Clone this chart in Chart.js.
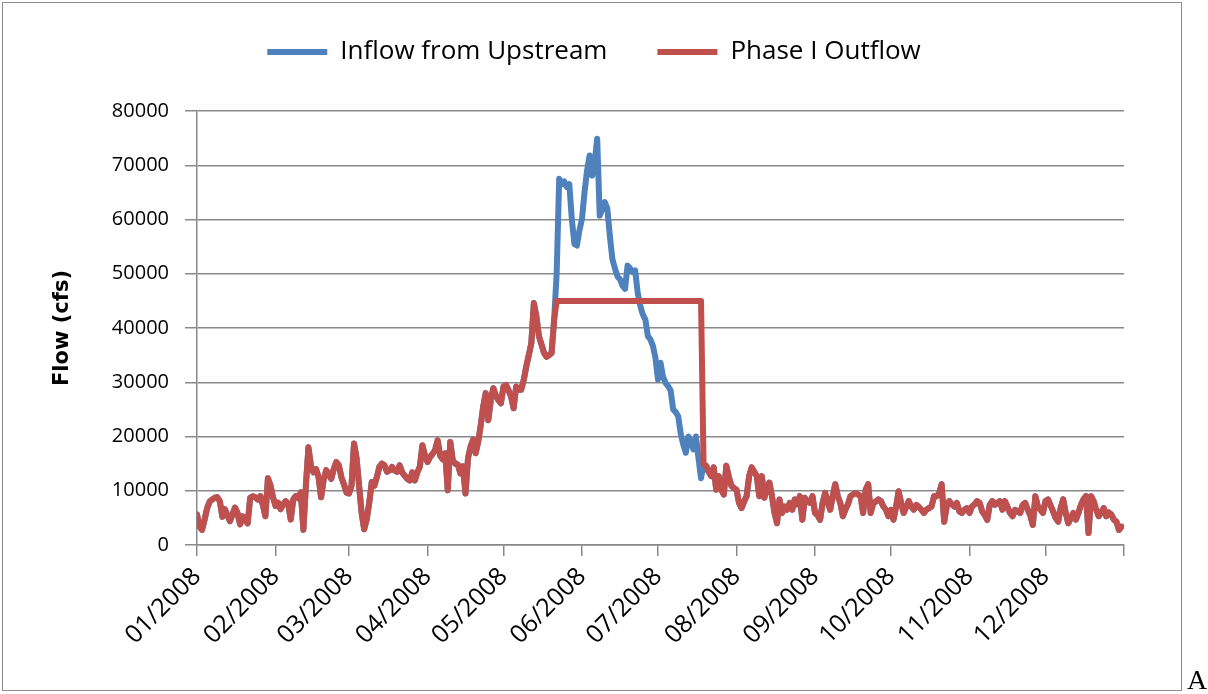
<!DOCTYPE html>
<html>
<head>
<meta charset="utf-8">
<script src="https://cdn.jsdelivr.net/npm/chart.js@4.4.0/dist/chart.umd.min.js"></script>
<style>
  html, body { margin: 0; padding: 0; background: #fff; }
  #wrap { position: relative; width: 1208px; height: 694px; overflow: hidden; }
  #frame { position: absolute; left: 2px; top: 2px; width: 1178px; height: 687px; border: 1px solid #8c8c8c; pointer-events: none; }
  #note { position: absolute; left: 1187px; top: 664px; font-family: "Liberation Serif", serif; font-size: 28px; color: #000; }
  canvas { position: absolute; left: 0; top: 0; }
</style>
</head>
<body>
<div id="wrap">
  <canvas id="flowChart" width="1208" height="694"></canvas>
  <div id="frame"></div>
  <div id="note">A</div>
</div>
<script>
// daily flow (cfs), 2008, one array per month
const inflowJan = [5600, 3400, 2800, 4700, 6800, 8000, 8400, 8700, 8800, 8100, 5200, 6600, 5500, 4400, 5600, 6900, 5900, 3800, 5300, 4600, 4000, 8700, 9000, 8800, 8400, 9000, 7400, 5300, 12300, 11000, 8800];
const inflowFeb = [7200, 7800, 6600, 7500, 8100, 7600, 4700, 8400, 9000, 8600, 9700, 2800, 11000, 18000, 14500, 13400, 14000, 12500, 8800, 12000, 13800, 13100, 12200, 14000, 15300, 14700, 12500, 11200, 9700];
const inflowMar = [9500, 10900, 18700, 16000, 10900, 5900, 2900, 4700, 7800, 11600, 10900, 12500, 14400, 15000, 14700, 13500, 13750, 14400, 13750, 13500, 14700, 13400, 12800, 12200, 11900, 13400, 11900, 13400, 14500, 18400, 16500];
const inflowApr = [15300, 16200, 16800, 17500, 19300, 16500, 15800, 16900, 10100, 19000, 15500, 15000, 14800, 13200, 14500, 9500, 16000, 18100, 19400, 16900, 19000, 22000, 25500, 28000, 23000, 26700, 28900, 27500, 26700, 26100];
const inflowMay = [29200, 29500, 28500, 27400, 25200, 29200, 28600, 28600, 30400, 32900, 35000, 37200, 44600, 42100, 38500, 37000, 35400, 34700, 35000, 35400, 41500, 50000, 67500, 66500, 67000, 66000, 66500, 60000, 55500, 55200, 58000];
const inflowJun = [60100, 65000, 69000, 71800, 68100, 70500, 74900, 60700, 62000, 63200, 62000, 57000, 52700, 51000, 49500, 49000, 47800, 47200, 51500, 51000, 50300, 50600, 46500, 44100, 42500, 41600, 38500, 37900, 36700, 34500];
const inflowJul = [30500, 33600, 31000, 29900, 29300, 28500, 25000, 24500, 23700, 20500, 18500, 17000, 20000, 19000, 17600, 20000, 16000, 12300, 14900, 14600, 13500, 12700, 14300, 10200, 12700, 10200, 9300, 14600, 12500, 10900, 10500];
const inflowAug = [10200, 7750, 6800, 8000, 9000, 12700, 14300, 13500, 12700, 9000, 12700, 8700, 10500, 11500, 9000, 6000, 4000, 8400, 5900, 7100, 6500, 7750, 6500, 8400, 7500, 9000, 4650, 8700, 8000, 7750, 9000];
const inflowSep = [5900, 5500, 4650, 7750, 9600, 8000, 6500, 9000, 11200, 9000, 7750, 5300, 6500, 7500, 9000, 9300, 9600, 9300, 9000, 5900, 10200, 11200, 5900, 7750, 8000, 8400, 8100, 7100, 6500, 5300];
const inflowOct = [6500, 4650, 7000, 9900, 7750, 5900, 7000, 8100, 7100, 6500, 7400, 7000, 6500, 5900, 6500, 6800, 7100, 9000, 9000, 9500, 11200, 4300, 7100, 8100, 7500, 7100, 7750, 6200, 5900, 6500, 6800];
const inflowNov = [5900, 7100, 7500, 8100, 7750, 6200, 5500, 4650, 7400, 8100, 7400, 7800, 8100, 6500, 8100, 7000, 5900, 5300, 6500, 6200, 5900, 7400, 7750, 6500, 5500, 3700, 9000, 7100, 6500, 5900];
const inflowDec = [8100, 8400, 7300, 6200, 5000, 4300, 6800, 8400, 5900, 4000, 5000, 5900, 4650, 5900, 7400, 8400, 9000, 2200, 9000, 8100, 6500, 5300, 6000, 6800, 5300, 6000, 5600, 4650, 4300, 2800, 3400];

// outflow differs from inflow only in May-July (held at the release limit)
const outflowMay = [29200, 29500, 28500, 27400, 25200, 29200, 28600, 28600, 30400, 32900, 35000, 37200, 44600, 42100, 38500, 37000, 35400, 34700, 35000, 35400, 41500, 45000, 45000, 45000, 45000, 45000, 45000, 45000, 45000, 45000, 45000];
const outflowJun = [45000, 45000, 45000, 45000, 45000, 45000, 45000, 45000, 45000, 45000, 45000, 45000, 45000, 45000, 45000, 45000, 45000, 45000, 45000, 45000, 45000, 45000, 45000, 45000, 45000, 45000, 45000, 45000, 45000, 45000];
const outflowJul = [45000, 45000, 45000, 45000, 45000, 45000, 45000, 45000, 45000, 45000, 45000, 45000, 45000, 45000, 45000, 45000, 45000, 45000, 14900, 14600, 13500, 12700, 14300, 10200, 12700, 10200, 9300, 14600, 12500, 10900, 10500];

const monthStartDays = [0, 31, 60, 91, 121, 152, 182, 213, 244, 274, 305, 335, 366];
const monthLabels = ['01/2008', '02/2008', '03/2008', '04/2008', '05/2008', '06/2008', '07/2008', '08/2008', '09/2008', '10/2008', '11/2008', '12/2008', ''];

const inflow = [].concat(inflowJan, inflowFeb, inflowMar, inflowApr, inflowMay, inflowJun, inflowJul, inflowAug, inflowSep, inflowOct, inflowNov, inflowDec);
const outflow = [].concat(inflowJan, inflowFeb, inflowMar, inflowApr, outflowMay, outflowJun, outflowJul, inflowAug, inflowSep, inflowOct, inflowNov, inflowDec);

const toPoints = arr => arr.map((v, i) => ({x: i, y: v}));

const gridColor = '#898989';

new Chart(document.getElementById('flowChart'), {
  type: 'line',
  data: {
    datasets: [
      {
        label: 'Inflow from Upstream',
        data: toPoints(inflow),
        borderColor: '#4F81BD',
        backgroundColor: '#4F81BD',
        borderWidth: 6,
        borderCapStyle: 'round',
        borderJoinStyle: 'round',
        pointRadius: 0,
        tension: 0,
        order: 1
      },
      {
        label: 'Phase I Outflow',
        data: toPoints(outflow),
        borderColor: '#C0504D',
        backgroundColor: '#C0504D',
        borderWidth: 6,
        borderCapStyle: 'round',
        borderJoinStyle: 'round',
        pointRadius: 0,
        tension: 0,
        order: 0
      }
    ]
  },
  options: {
    responsive: false,
    animation: false,
    layout: {padding: {left: 0, right: 20, top: -11, bottom: 0}},
    plugins: {
      tooltip: {enabled: false},
      legend: {
        position: 'top',
        labels: {
          usePointStyle: true,
          pointStyle: 'line',
          pointStyleWidth: 60,
          padding: 50,
          color: '#000',
          font: {family: 'Open Sans', size: 26},
          sort: (a, b) => a.datasetIndex - b.datasetIndex
        }
      },
      // empty spacer between the legend and the plot
      subtitle: {
        display: true,
        text: '',
        position: 'top',
        weight: 500,
        padding: {top: 36, bottom: 0},
        font: {size: 10, lineHeight: 0}
      }
    },
    scales: {
      x: {
        type: 'linear',
        min: 0,
        max: 366,
        afterBuildTicks: axis => { axis.ticks = monthStartDays.map(d => ({value: d})); },
        afterFit: axis => { axis.height = 149; axis.paddingRight = 84; },
        grid: {drawOnChartArea: false, drawTicks: true, tickLength: 11, color: gridColor, lineWidth: 1.5},
        border: {display: true, color: gridColor, width: 1.5},
        ticks: {
          autoSkip: false,
          maxRotation: 45,
          minRotation: 45,
          padding: 6,
          color: '#000',
          font: {family: 'Open Sans', size: 25},
          callback: (value, index) => monthLabels[index]
        }
      },
      y: {
        min: 0,
        max: 80000,
        afterFit: axis => { axis.width = 197; },
        grid: {color: gridColor, lineWidth: 1.5, tickLength: 12},
        border: {display: true, color: gridColor, width: 1.5},
        ticks: {
          stepSize: 10000,
          padding: 16,
          color: '#000',
          font: {family: 'Open Sans', size: 20},
          callback: value => String(value)
        },
        title: {
          display: true,
          text: 'Flow (cfs)',
          color: '#000',
          font: {family: 'DejaVu Sans', size: 21, weight: 'bold'},
          padding: {top: 50, bottom: 0}
        }
      }
    }
  }
});
</script>
</body>
</html>
